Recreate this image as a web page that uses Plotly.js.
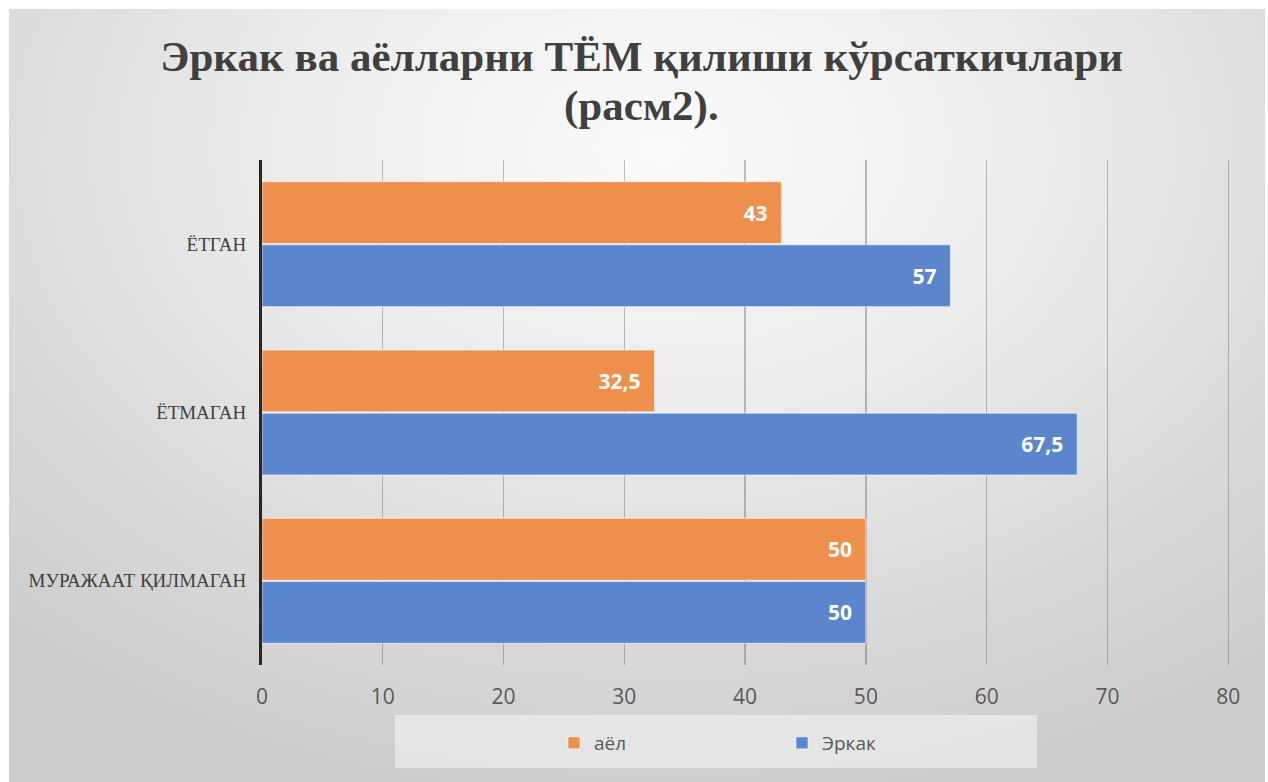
<!DOCTYPE html>
<html>
<head>
<meta charset="utf-8">
<script src="https://cdn.plot.ly/plotly-3.0.1.min.js"></script>
<style>
  html, body { margin:0; padding:0; width:1268px; height:782px; background:#ffffff; overflow:hidden; }
  #bg { position:absolute; left:9px; top:9px; width:1256px; height:773px;
        background: radial-gradient(ellipse 75% 85% at 52% 18%, #fbfbfb 0%, #ececec 40%, #d9d9d9 75%, #cdcdcd 100%); }
  #chart { position:absolute; left:0; top:0; width:1268px; height:782px; }
</style>
</head>
<body>
<div id="bg"></div>
<div id="chart"></div>
<script>
const categories = ['МУРАЖААТ ҚИЛМАГАН', 'ЁТМАГАН', 'ЁТГАН'];
const erkakValues = [50, 67.5, 57];
const ayolValues = [50, 32.5, 43];
const seriesNames = ['Эркак', 'аёл'];
const tickValues = [0, 10, 20, 30, 40, 50, 60, 70, 80];
const titleLine1 = 'Эркак ва аёлларни ТЁМ қилиши кўрсаткичлари';
const titleLine2 = '(расм2).';

const labelFont = {family: 'Open Sans, Arial, sans-serif', size: 21, color: '#ffffff', weight: 'bold'};
const pad = '\u00a0\u00a0';

const traces = [
  {
    type: 'bar', orientation: 'h', name: seriesNames[0],
    y: categories, x: erkakValues,
    marker: {color: 'rgb(91,134,206)', line: {color: 'rgba(255,255,255,0.6)', width: 1}},
    texttemplate: '<b>%{x}</b>' + pad, textposition: 'inside', insidetextanchor: 'end',
    textfont: labelFont, hoverinfo: 'x+name'
  },
  {
    type: 'bar', orientation: 'h', name: seriesNames[1],
    y: categories, x: ayolValues,
    marker: {color: 'rgb(238,143,76)', line: {color: 'rgba(255,255,255,0.6)', width: 1}},
    texttemplate: '<b>%{x}</b>' + pad, textposition: 'inside', insidetextanchor: 'end',
    textfont: labelFont, hoverinfo: 'x+name'
  }
];

const titleFont = {family: 'Liberation Serif, Times New Roman, serif', size: 43, color: '#404040', weight: 'bold'};

const layout = {
  width: 1268, height: 782,
  paper_bgcolor: 'rgba(0,0,0,0)', plot_bgcolor: 'rgba(0,0,0,0)',
  separators: ', ',
  margin: {l: 262, r: 38, t: 160, b: 117},
  barmode: 'group', bargap: 0.25, bargroupgap: 0.02,
  title: {
    text: titleLine1,
    font: titleFont,
    x: 0.506, xanchor: 'center', y: 1 - 56 / 782, yanchor: 'middle'
  },
  annotations: [{
    text: titleLine2, font: titleFont, showarrow: false,
    xref: 'paper', yref: 'paper',
    x: (641 - 262) / 968, xanchor: 'center',
    y: (665 - 106) / 505, yanchor: 'middle'
  }],
  xaxis: {
    range: [0, 80.15], tickvals: tickValues, ticktext: tickValues.map(String),
    showgrid: true, gridcolor: 'rgba(95,95,95,0.4)', gridwidth: 1.3,
    zeroline: false, showline: false, ticks: '',
    tickfont: {family: 'Open Sans, Arial, sans-serif', size: 21, color: '#595959'},
    ticklabelstandoff: 17, fixedrange: true
  },
  yaxis: {
    showline: true, linecolor: '#262626', linewidth: 3,
    showgrid: false, ticks: '', fixedrange: true,
    tickfont: {family: 'Liberation Serif, Times New Roman, serif', size: 19, color: '#404040'},
    ticklabelstandoff: 9
  },
  shapes: [{
    type: 'rect', xref: 'paper', yref: 'paper',
    x0: (395 - 262) / 968, x1: (1037 - 262) / 968,
    y0: -(715 - 665) / 505, y1: -(768 - 665) / 505,
    fillcolor: 'rgba(240,240,240,0.65)', line: {width: 0}, layer: 'below'
  }],
  showlegend: true,
  legend: {
    orientation: 'h', traceorder: 'reversed',
    x: (782 - 262) / 968, xanchor: 'center',
    y: -(743 - 665) / 505, yanchor: 'middle',
    bgcolor: 'rgba(0,0,0,0)', entrywidth: 183, itemwidth: 30,
    font: {family: 'Open Sans, Arial, sans-serif', size: 19, color: '#595959'}
  }
};

Plotly.newPlot('chart', traces, layout, {displayModeBar: false, staticPlot: true});
</script>
</body>
</html>
